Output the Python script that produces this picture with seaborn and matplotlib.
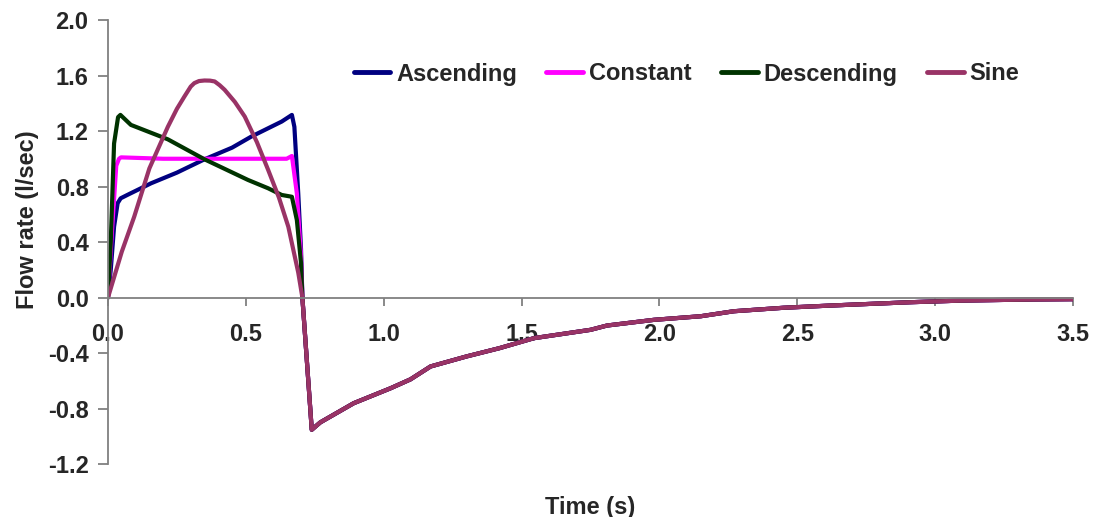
import numpy as np
import pandas as pd
import matplotlib
matplotlib.use("Agg")
import matplotlib.pyplot as plt
import seaborn as sns

# ---- data ----
series_names = ["Ascending", "Constant", "Descending", "Sine"]
colors = ["#000080", "#FF00FF", "#003300", "#993366"]

# shared expiration phase
t_exp = [0.705, 0.739, 0.77, 0.891, 1.025, 1.097, 1.17, 1.30, 1.42, 1.545, 1.75, 1.81,
         1.98, 2.15, 2.27, 2.45, 2.62, 2.91, 3.10, 3.36, 3.50]
f_exp = [0.0, -0.953, -0.90, -0.762, -0.654, -0.59, -0.497, -0.425, -0.365, -0.293, -0.233,
         -0.202, -0.161, -0.135, -0.099, -0.074, -0.058, -0.034, -0.022, -0.014, -0.012]

t_asc = [0, 0.01, 0.022, 0.035, 0.046, 0.07, 0.156, 0.25, 0.35, 0.45, 0.52, 0.63, 0.667,
         0.676, 0.69, 0.70]
f_asc = [0, 0.2, 0.51, 0.68, 0.715, 0.739, 0.823, 0.90, 0.996, 1.08, 1.16, 1.268, 1.316,
         1.23, 0.75, 0.35]

t_con = [0, 0.015, 0.03, 0.04, 0.047, 0.2, 0.4, 0.648, 0.667, 0.685, 0.70]
f_con = [0, 0.5, 0.95, 1.0, 1.01, 1.0, 1.0, 1.0, 1.02, 0.75, 0.3]

t_des = [0, 0.01, 0.022, 0.0365, 0.045, 0.083, 0.217, 0.35, 0.508, 0.581, 0.63, 0.667,
         0.685, 0.70]
f_des = [0, 0.4, 1.11, 1.30, 1.316, 1.244, 1.14, 0.996, 0.847, 0.787, 0.739, 0.726,
         0.558, 0.25]

t_sin = [0, 0.05, 0.095, 0.15, 0.217, 0.25, 0.277, 0.30, 0.313, 0.33, 0.35, 0.37, 0.387,
         0.405, 0.423, 0.46, 0.496, 0.54, 0.581, 0.62, 0.654, 0.69]
f_sin = [0, 0.33, 0.582, 0.93, 1.23, 1.36, 1.448, 1.52, 1.545, 1.56, 1.564, 1.563, 1.557,
         1.53, 1.497, 1.41, 1.304, 1.12, 0.919, 0.72, 0.51, 0.18]

x_ticks = [0.0, 0.5, 1.0, 1.5, 2.0, 2.5, 3.0, 3.5]
y_ticks = [-1.2, -0.8, -0.4, 0.0, 0.4, 0.8, 1.2, 1.6, 2.0]

# ---- build long-form table ----
rows = []
for name, tt, ff in zip(series_names,
                        [t_asc, t_con, t_des, t_sin],
                        [f_asc, f_con, f_des, f_sin]):
    for t, f in zip(list(tt) + t_exp, list(ff) + f_exp):
        rows.append({"Time": t, "Flow": f, "Series": name})
df = pd.DataFrame(rows)

sns.set_theme(style="white")
plt.rcParams["font.family"] = ["Liberation Sans", "DejaVu Sans"]
plt.rcParams["font.weight"] = "bold"
plt.rcParams["axes.unicode_minus"] = False

FS = 17

fig = plt.figure(figsize=(10.95, 5.17), dpi=100)
ax = fig.add_axes([108 / 1095, 1 - 464 / 517, (1073 - 108) / 1095, (464 - 20) / 517])

sns.lineplot(data=df, x="Time", y="Flow", hue="Series", hue_order=series_names,
             palette=dict(zip(series_names, colors)), sort=False, estimator=None,
             linewidth=3.0, ax=ax)

ax.set_xlim(0, 3.5)
ax.set_ylim(-1.2, 2.0)
ax.set_xticks(x_ticks)
ax.set_yticks(y_ticks)
ax.set_xticklabels([f"{v:.1f}" for v in x_ticks])
ax.set_yticklabels([f"{v:.1f}" for v in y_ticks])

axis_col = "#808080"
ax.spines["top"].set_visible(False)
ax.spines["right"].set_visible(False)
ax.spines["bottom"].set_position(("data", 0))
for s in ["left", "bottom"]:
    ax.spines[s].set_color(axis_col)
    ax.spines[s].set_linewidth(1.3)

ax.tick_params(axis="y", direction="out", length=7, width=1.3, color=axis_col,
               labelsize=FS, pad=7, left=True)
ax.tick_params(axis="x", direction="out", length=6, width=1.3, color=axis_col,
               labelsize=FS, pad=12, bottom=True)
for lab in ax.get_xticklabels() + ax.get_yticklabels():
    lab.set_fontweight("bold")

ax.set_xlabel("Time (s)", fontsize=FS, fontweight="bold")
ax.set_ylabel("Flow rate (l/sec)", fontsize=FS, fontweight="bold")
ax.xaxis.set_label_coords(0.5, -0.072)
ax.yaxis.set_label_coords(-0.071, 0.55)

leg = ax.legend(loc="center", bbox_to_anchor=(686.5 / 1095, 1 - 74 / 517),
                bbox_transform=fig.transFigure, ncol=4, frameon=False,
                handlelength=1.55, handletextpad=0.25, columnspacing=1.25,
                prop={"size": FS, "weight": "bold"}, borderpad=0)
for line in leg.get_lines():
    line.set_linewidth(3.5)

fig.savefig("out.png", dpi=100)
